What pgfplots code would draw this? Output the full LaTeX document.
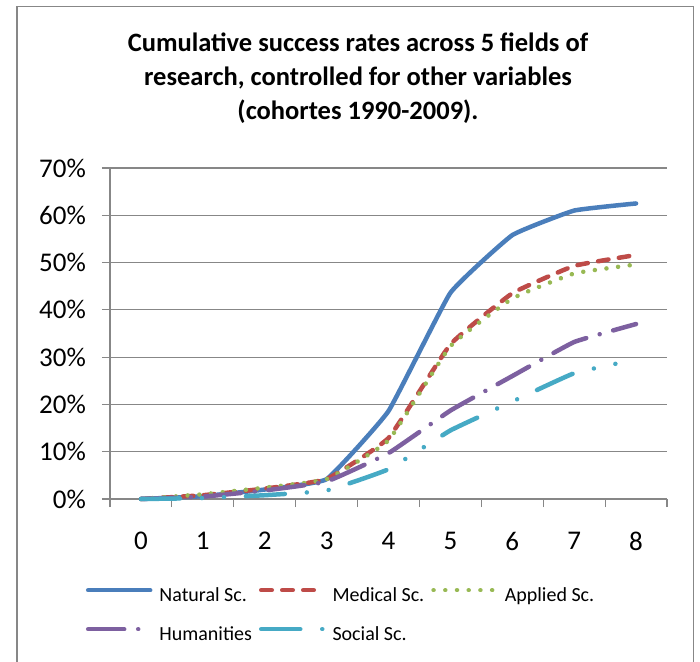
\documentclass[border=0pt]{standalone}
\usepackage{fontspec}
\setmainfont{Carlito}
\usepackage{pgfplots}
\pgfplotsset{compat=1.18}
\definecolor{cNat}{HTML}{4A7EBB}
\definecolor{cMed}{HTML}{BE4B48}
\definecolor{cApp}{HTML}{98B954}
\definecolor{cHum}{HTML}{7D60A0}
\definecolor{cSoc}{HTML}{46AAC5}
\definecolor{cGrid}{HTML}{878787}
\begin{document}
\begin{tikzpicture}[x=1bp,y=1bp]
\path[use as bounding box] (0bp,0bp) rectangle (700bp,662bp);
\fill[white] (0bp,0bp) rectangle (700bp,662bp);
\draw[cGrid, line width=1.5bp] (17bp,-10bp) -- (17bp,655.5bp) -- (693.5bp,655.5bp) -- (693.5bp,-10bp);
\node[align=center, font=\fontsize{26.5bp}{34bp}\selectfont\bfseries, anchor=north, inner sep=0pt] at (358bp,629bp)
 {Cumulative success rates across 5 fields of\\research, controlled for other variables\\(cohortes 1990-2009).};
\begin{axis}[
  at={(110bp,163bp)}, anchor=south west,
  scale only axis, width=557bp, height=331bp,
  xmin=-0.5, xmax=8.5, ymin=0, ymax=70,
  axis lines*=left,
  axis line style={cGrid, line width=1.2bp},
  xtick={0,1,2,3,4,5,6,7,8},
  xticklabels={0,1,2,3,4,5,6,7,8},
  minor xtick={-0.5,0.5,1.5,2.5,3.5,4.5,5.5,6.5,7.5,8.5},
  major x tick style={draw=none},
  minor x tick style={cGrid, line width=1.2bp},
  ytick={0,10,20,30,40,50,60,70},
  yticklabels={0\%,10\%,20\%,30\%,40\%,50\%,60\%,70\%},
  y tick style={cGrid, line width=1.2bp},
  tick align=outside,
  major tick length=8bp, minor tick length=8bp,
  ymajorgrids, major grid style={cGrid, line width=1.2bp},
  tick label style={font=\fontsize{27bp}{32bp}\selectfont, inner sep=0pt},
  yticklabel style={anchor=east, xshift=-16bp},
  xticklabel style={anchor=center, yshift=-34bp},
  clip=false,
  legend columns=3,
  legend style={draw=none, fill=none, at={(axis description cs:-0.0435,-0.266)}, anchor=north west,
    font=\fontsize{20bp}{24bp}\selectfont, inner sep=0pt,
    nodes={inner sep=0pt, text height=14bp, text depth=4bp},
    column sep=7bp, row sep=21bp},
  legend cell align=left,
  legend image code/.code={\draw[#1] (0,6bp) -- (62bp,6bp);},
  every axis plot/.append style={line width=4.5bp, line cap=round, line join=round, smooth, tension=0.2},
]
\addplot[cNat] coordinates {(0,0) (1,0.6) (2,2.0) (3,4.2) (4,18.6) (5,43.6) (6,55.8) (7,61.0) (8,62.5)};
\addlegendentry{Natural Sc.}
\addplot[cMed, dash pattern=on 10.5bp off 10.5bp] coordinates {(0,0) (1,0.8) (2,2.2) (3,4.2) (4,12.9) (5,32.7) (6,43.5) (7,49.3) (8,51.6)};
\addlegendentry{Medical Sc.}
\addplot[cApp, dash pattern=on 0.01bp off 11.7bp] coordinates {(0,0) (1,1.0) (2,2.4) (3,4.2) (4,12.4) (5,32.3) (6,42.4) (7,47.7) (8,49.6)};
\addlegendentry{Applied Sc.}
\addplot[cHum, dash pattern=on 36bp off 14bp on 0.01bp off 14bp] coordinates {(0,0) (1,0.5) (2,1.8) (3,3.7) (4,9.7) (5,18.7) (6,26.0) (7,33.2) (8,37.0)};
\addlegendentry{Humanities}
\addplot[cSoc, dash pattern=on 39bp off 22bp on 0.01bp off 22bp on 0.01bp off 22bp] coordinates {(0,0) (1,0.2) (2,0.8) (3,1.8) (4,6.3) (5,14.5) (6,20.6) (7,26.6) (8,29.5)};
\addlegendentry{Social Sc.}
\end{axis}
\end{tikzpicture}
\end{document}
